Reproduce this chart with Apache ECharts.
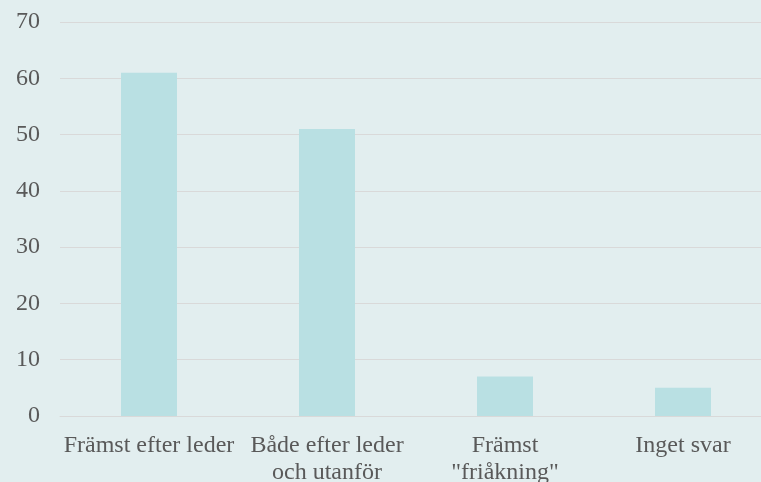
<!DOCTYPE html>
<html>
<head>
<meta charset="utf-8">
<script src="https://cdn.jsdelivr.net/npm/echarts@6/dist/echarts.min.js"></script>
<style>
  html, body { margin: 0; padding: 0; background: #e2eeef; }
  #main { width: 761px; height: 482px; }
</style>
</head>
<body>
<div id="main"></div>
<script>
  var categories = ['Främst efter leder', 'Både efter leder\noch utanför', 'Främst\n"friåkning"', 'Inget svar'];
  var values = [61, 51, 7, 5];

  var myChart = echarts.init(document.getElementById('main'));
  myChart.setOption({
    backgroundColor: '#e2eeef',
    textStyle: { fontFamily: 'Liberation Serif' },
    grid: { left: 60, right: -11, top: 22, bottom: 66, outerBoundsMode: 'none' },
    xAxis: {
      type: 'category',
      data: categories,
      axisLine: { show: true, lineStyle: { color: '#d9d9d9', width: 1 } },
      axisTick: { show: false },
      axisLabel: {
        color: '#595959',
        fontSize: 24,
        lineHeight: 27,
        margin: 16,
        interval: 0,
        fontFamily: 'Liberation Serif'
      }
    },
    yAxis: {
      type: 'value',
      min: 0,
      max: 70,
      interval: 10,
      axisLine: { show: false },
      axisTick: { show: false },
      splitLine: { lineStyle: { color: '#d9d9d9', width: 1 } },
      axisLabel: {
        color: '#595959',
        fontSize: 24,
        margin: 20,
        fontFamily: 'Liberation Serif'
      }
    },
    series: [{
      type: 'bar',
      data: values,
      barWidth: 56,
      itemStyle: { color: '#b9e0e3' }
    }]
  });
</script>
</body>
</html>
